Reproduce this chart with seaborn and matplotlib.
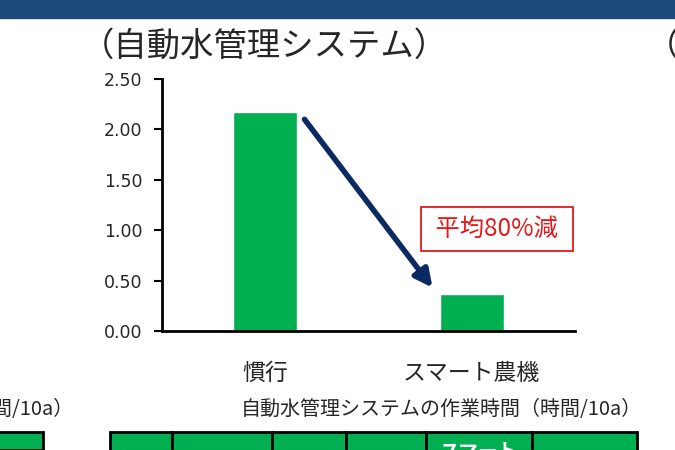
import matplotlib
matplotlib.use("Agg")
import matplotlib.pyplot as plt
from matplotlib.patches import Rectangle
import seaborn as sns
import pandas as pd

categories = ["慣行", "スマート農機"]
hours = [2.17, 0.37]
yticks = [0.0, 0.5, 1.0, 1.5, 2.0, 2.5]
title = "（自動水管理システム）"
note = "平均80%減"
caption = "自動水管理システムの作業時間（時間/10a）"
caption_left = "の作業時間（時間/10a）"
table_edges = [110, 172, 272, 346, 426, 532, 637]

GREEN = "#00B050"
NAVY = "#0B2A62"
RED = "#E31A1C"

sns.set_style("white")
plt.rcParams["font.family"] = ["Noto Sans CJK JP", "DejaVu Sans"]

W, H = 675, 450
fig = plt.figure(figsize=(6.75, 4.5), dpi=100)

# slide banner
fig.patches.append(Rectangle((0, 1 - 18 / H), 1, 18 / H, transform=fig.transFigure,
                             color="#1F4A7C", zorder=0))

ax = fig.add_axes([162 / W, 1 - 331 / H, 413 / W, 252 / H])
df = pd.DataFrame({"cat": categories, "hours": hours})
sns.barplot(data=df, x="cat", y="hours", color=GREEN, saturation=1, width=0.31, ax=ax)

ax.set_xlim(-0.5, 1.5)
ax.set_ylim(0, 2.5)
ax.set_yticks(yticks)
ax.set_yticklabels([f"{v:.2f}" for v in yticks], fontfamily="DejaVu Sans", fontsize=12.5)
ax.set_xlabel("")
ax.set_ylabel("")
ax.tick_params(axis="y", direction="out", length=6, width=1.5, color="black", pad=8, left=True)
ax.tick_params(axis="x", length=0, pad=22, labelsize=16.5)
sns.despine(ax=ax)
for s in ["left", "bottom"]:
    ax.spines[s].set_linewidth(2)
    ax.spines[s].set_color("black")

# arrow from the conventional bar to the smart bar
ax.annotate("", xy=(0.81, hours[1] + 0.06), xytext=(0.19, hours[0] - 0.07),
            arrowprops=dict(arrowstyle="-|>", color=NAVY, lw=4, mutation_scale=26,
                            shrinkA=0, shrinkB=0))
ax.text(1.122, 1.01, " " + note + " ", color=RED, fontsize=17.5, ha="center", va="center",
        bbox=dict(boxstyle="square,pad=0.38", fc="white", ec=RED, lw=1.3))

fig.text(264 / W, 1 - 46 / H, title, fontsize=24, ha="center", va="center")
fig.text(646 / W, 1 - 46 / H, "（", fontsize=24, ha="left", va="center")
fig.text(642 / W, 1 - 410 / H, caption, fontsize=14.4, ha="right", va="center")
fig.text(73 / W, 1 - 410 / H, caption_left, fontsize=14.4, ha="right", va="center")

# table header cells peeking in at the bottom
top = 432
fig.patches.append(Rectangle((-5 / W, 0), 48 / W, (H - top) / H, transform=fig.transFigure,
                             fc=GREEN, ec="black", lw=2, zorder=1))
for x0, x1 in zip(table_edges[:-1], table_edges[1:]):
    fig.patches.append(Rectangle((x0 / W, -5 / H), (x1 - x0) / W, (H - top + 5) / H,
                                 transform=fig.transFigure, fc=GREEN, ec="black", lw=2, zorder=1))
fig.text((table_edges[4] + table_edges[5]) / 2 / W, 1 - 452 / H, "スマート", color="white",
         fontsize=14, fontweight="bold", ha="center", va="center")

fig.savefig("out.png", dpi=100)
